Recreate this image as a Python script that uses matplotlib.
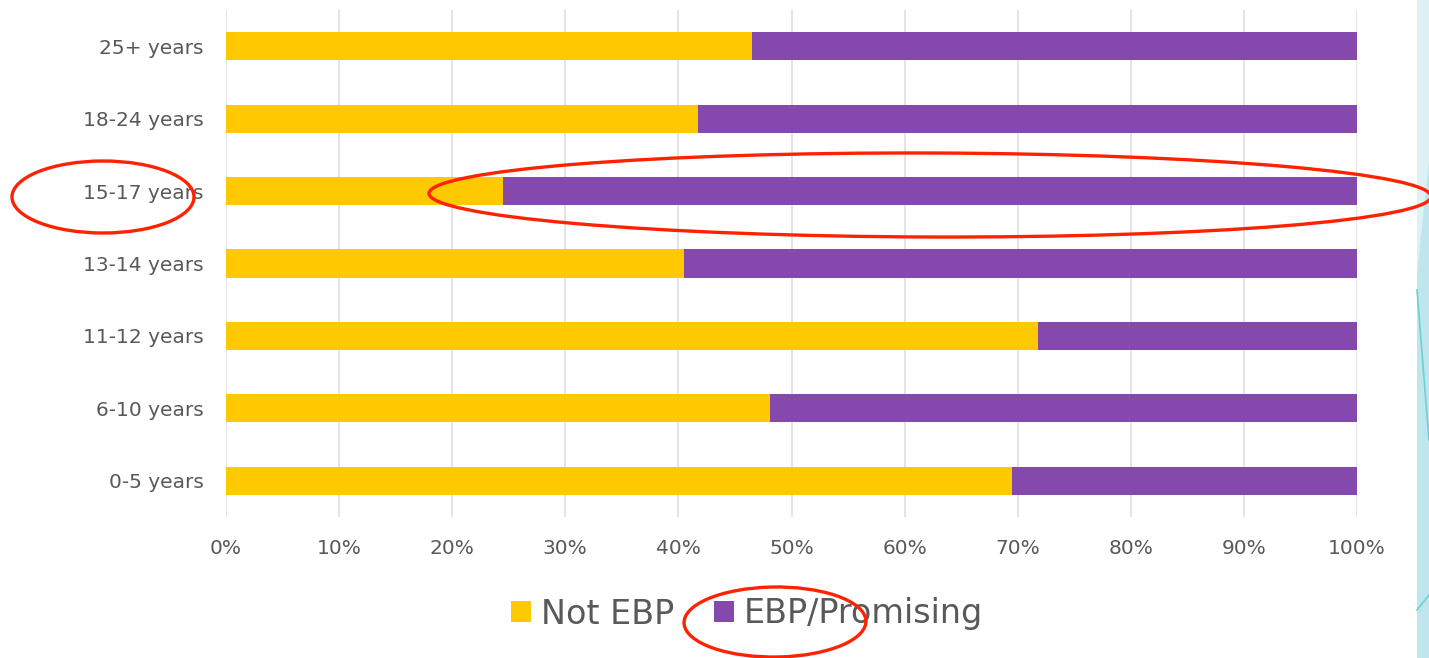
import matplotlib
matplotlib.use("Agg")
import matplotlib.pyplot as plt
from matplotlib.patches import Ellipse, Polygon
from matplotlib.ticker import FuncFormatter

ageGroups = ["0-5 years", "6-10 years", "11-12 years", "13-14 years",
             "15-17 years", "18-24 years", "25+ years"]
notEbp = [69.5, 48.1, 71.8, 40.5, 24.5, 41.7, 46.5]
ebpPromising = [100 - v for v in notEbp]
xTicks = [0, 10, 20, 30, 40, 50, 60, 70, 80, 90, 100]

yellow = "#FFC900"
purple = "#8549AE"
textGray = "#595959"

W, H = 1429, 658
fig = plt.figure(figsize=(W / 100, H / 100), dpi=100)
ax = fig.add_axes([226 / W, 1 - 517 / H, (1357 - 226) / W, (517 - 10) / H])

yPos = list(range(len(ageGroups)))
ax.barh(yPos, notEbp, height=0.39, color=yellow, label="Not EBP", zorder=2)
ax.barh(yPos, ebpPromising, left=notEbp, height=0.39, color=purple,
        label="EBP/Promising", zorder=2)

ax.set_xlim(0, 100)
ax.set_ylim(-0.5, 6.5)
ax.set_xticks(xTicks)
ax.xaxis.set_major_formatter(FuncFormatter(lambda v, _: f"{v:.0f}%"))
ax.set_yticks(yPos)
ax.set_yticklabels(ageGroups)
ax.grid(axis="x", color="#E2E2E2", lw=1.3, zorder=0)
ax.set_axisbelow(True)
for s in ax.spines.values():
    s.set_visible(False)
ax.tick_params(axis="both", length=0, labelsize=14.5, labelcolor=textGray)
ax.tick_params(axis="y", pad=16)
ax.tick_params(axis="x", pad=16)

leg = fig.legend(loc="center", bbox_to_anchor=(747 / W, 1 - 614 / H), ncol=2,
                 frameon=False, fontsize=24, handlelength=0.6, handleheight=0.6,
                 handletextpad=0.3, columnspacing=1.2, labelcolor=textGray)

# decorative teal shapes on the right edge
def px(x, y):
    return (x / W, 1 - y / H)

fig.patches.append(Polygon([px(1417, 0), px(1429, 0), px(1429, 658), px(1417, 658)],
                           closed=True, transform=fig.transFigure,
                           facecolor="#DDF2F5", edgecolor="none"))
fig.patches.append(Polygon([px(1417, 275), px(1429, 160), px(1429, 658), px(1417, 658)],
                           closed=True, transform=fig.transFigure,
                           facecolor="#BFE6EC", edgecolor="none"))
fig.lines.append(plt.Line2D([1417 / W, 1429 / W], [1 - 290 / H, 1 - 440 / H],
                            transform=fig.transFigure, color="#6FCFD8", lw=1.2))
fig.lines.append(plt.Line2D([1417 / W, 1429 / W], [1 - 610 / H, 1 - 595 / H],
                            transform=fig.transFigure, color="#6FCFD8", lw=1.2))

# red hand-drawn style ellipses
red = "#FF2200"
for cx, cy, w, h, ang in [(103, 197, 182, 72, 0),
                          (930, 195, 1002, 84, -0.4),
                          (775, 622, 182, 70, 3)]:
    fig.patches.append(Ellipse(px(cx, cy), w / W, h / H, angle=ang,
                               transform=fig.transFigure, fill=False,
                               edgecolor=red, lw=2.4, zorder=10))

fig.savefig("out.png", dpi=100)
